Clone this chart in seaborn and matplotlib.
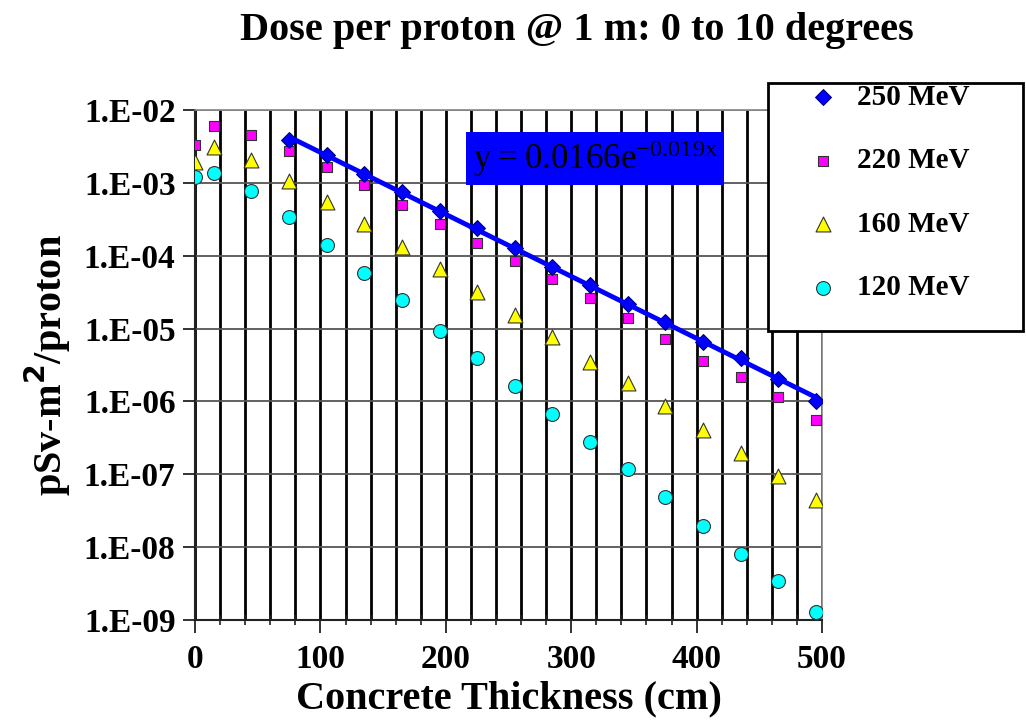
import numpy as np
import pandas as pd
import matplotlib
matplotlib.use("Agg")
import matplotlib.pyplot as plt
from matplotlib.patches import Rectangle
from matplotlib.ticker import MultipleLocator, FixedLocator, FuncFormatter, NullLocator
import seaborn as sns

# ---- data ----
thickness = [0, 15, 45, 75, 105, 135, 165, 195, 225, 255, 285, 315, 345, 375, 405, 435, 465, 495]
thickness_250 = thickness[3:]

dose_250 = [3.9e-3, 2.4e-3, 1.31e-3, 7.4e-4, 4.1e-4, 2.37e-4, 1.26e-4, 7.1e-5,
            3.97e-5, 2.2e-5, 1.23e-5, 6.6e-6, 3.9e-6, 2.02e-6, 1.02e-6]
dose_220 = [3.3e-3, 6.0e-3, 4.5e-3, 2.7e-3, 1.67e-3, 9.3e-4, 5.0e-4, 2.7e-4, 1.51e-4,
            8.5e-5, 4.8e-5, 2.6e-5, 1.38e-5, 7.2e-6, 3.6e-6, 2.14e-6, 1.15e-6, 5.6e-7]
dose_160 = [1.95e-3, 3.1e-3, 2.05e-3, 1.06e-3, 5.4e-4, 2.7e-4, 1.32e-4, 6.5e-5, 3.2e-5,
            1.55e-5, 7.7e-6, 3.5e-6, 1.78e-6, 8.7e-7, 4.1e-7, 1.94e-7, 9.5e-8, 4.4e-8]
dose_120 = [1.22e-3, 1.38e-3, 7.7e-4, 3.4e-4, 1.41e-4, 5.7e-5, 2.46e-5, 9.3e-6, 3.9e-6,
            1.64e-6, 6.7e-7, 2.76e-7, 1.17e-7, 4.8e-8, 1.97e-8, 8.1e-9, 3.4e-9, 1.29e-9]

y_ticks = [1e-9, 1e-8, 1e-7, 1e-6, 1e-5, 1e-4, 1e-3, 1e-2]
x_ticks = [0, 100, 200, 300, 400, 500]
equation = r"$\mathregular{y = 0.0166e^{-0.019x}}$"

# ---- style ----
sns.set_style("white")
plt.rcParams["font.family"] = ["Liberation Serif", "DejaVu Serif"]
plt.rcParams["font.weight"] = "bold"
plt.rcParams["axes.labelweight"] = "bold"
for key in ["text.color", "axes.labelcolor", "xtick.color", "ytick.color"]:
    plt.rcParams[key] = "black"

fig = plt.figure(figsize=(10.26, 7.23), dpi=100)
ax = fig.add_axes([0.1901, 0.1425, 0.6111, 0.7054])

edge = "#333333"
sns.scatterplot(x=thickness, y=dose_220, ax=ax, marker="s", s=60, color="#FF00FF",
                edgecolor=edge, linewidth=0.8, label="220 MeV", zorder=3)
sns.scatterplot(x=thickness, y=dose_160, ax=ax, marker="^", s=115, color="#FFFF00",
                edgecolor=edge, linewidth=0.8, label="160 MeV", zorder=3)
sns.scatterplot(x=thickness, y=dose_120, ax=ax, marker="o", s=100, color="#00FFFF",
                edgecolor=edge, linewidth=0.8, label="120 MeV", zorder=3)
sns.scatterplot(x=thickness_250, y=dose_250, ax=ax, marker="D", s=65, color="#0000FF",
                edgecolor="#000080", linewidth=0.8, label="250 MeV", zorder=4)

# exponential trendline through the 250 MeV points
slope, icpt = np.polyfit(thickness_250, np.log(dose_250), 1)
fit_x = np.array(thickness_250, dtype=float)
sns.lineplot(x=fit_x, y=np.exp(icpt + slope * fit_x), ax=ax, color="#0000FF",
             linewidth=3.5, zorder=5, legend=False)

ax.set_yscale("log")
ax.set_xlim(0, 500)
ax.set_ylim(1e-9, 1e-2)

ax.xaxis.set_major_locator(FixedLocator(x_ticks))
ax.xaxis.set_minor_locator(MultipleLocator(20))
ax.yaxis.set_major_locator(FixedLocator(y_ticks))
ax.yaxis.set_minor_locator(NullLocator())
ax.yaxis.set_major_formatter(FuncFormatter(lambda v, p: "1.E-%02d" % round(-np.log10(v))))

ax.grid(True, which="both", axis="x", color="black", linewidth=2.0)
ax.grid(True, which="major", axis="y", color="#555555", linewidth=1.3)
ax.set_axisbelow(True)

for side in ["left", "bottom"]:
    ax.spines[side].set_color("#222222")
    ax.spines[side].set_linewidth(1.5)
for side in ["top", "right"]:
    ax.spines[side].set_color("#888888")
    ax.spines[side].set_linewidth(1.2)

ax.tick_params(axis="y", which="major", direction="out", length=9, width=1.3,
               color="#222222", labelsize=24, pad=5, left=True)
ax.tick_params(axis="x", which="major", direction="out", length=9, width=1.3,
               color="#222222", labelsize=24, pad=8, bottom=True)
ax.tick_params(axis="x", which="minor", direction="inout", length=7, width=1.2,
               color="#222222", bottom=True)

ax.set_xlabel("Concrete Thickness (cm)", fontsize=29, labelpad=4)
ax.set_ylabel(r"pSv-m$^\mathbf{2}$/proton", fontsize=29, labelpad=8)
fig.text(0.562, 0.958, "Dose per proton @ 1 m: 0 to 10 degrees", ha="center", va="center",
         fontsize=29, fontweight="bold")

ax.text(0.638, 0.905, equation, transform=ax.transAxes, ha="center", va="center",
        fontsize=25, fontweight="normal", color="black", zorder=6,
        bbox=dict(boxstyle="square,pad=0.18", facecolor="#0000FF", edgecolor="none"))

# legend: separate frame so the box can be wider than its contents
fig.patches.append(Rectangle((768 / 1026, 1 - 331 / 723), 255 / 1026, 248 / 723,
                             transform=fig.transFigure, facecolor="white",
                             edgecolor="black", linewidth=2, zorder=10))
handles, labels = ax.get_legend_handles_labels()
order = [labels.index(l) for l in ["250 MeV", "220 MeV", "160 MeV", "120 MeV"]]
ax.get_legend().remove()
leg = fig.legend([handles[i] for i in order], [labels[i] for i in order],
                 loc="upper left", bbox_to_anchor=(801 / 1026, 1 - 84 / 723),
                 frameon=False, fontsize=21, labelspacing=1.25, handletextpad=0.42,
                 borderpad=0, handlelength=1.5, borderaxespad=0)
leg.set_zorder(11)

fig.savefig("out.png", dpi=100)
